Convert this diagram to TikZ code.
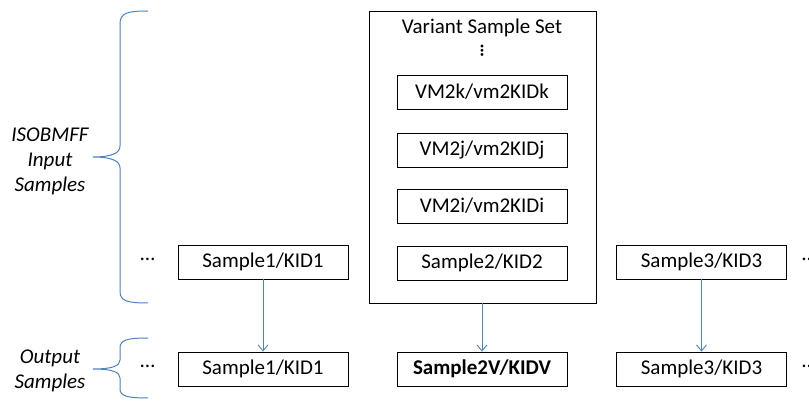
\documentclass[tikz,border=0pt]{standalone}
\usepackage{fontspec}
\setmainfont{Carlito}
\usetikzlibrary{arrows.meta}
\definecolor{braceblue}{HTML}{4F81BD}
\tikzset{
  sbox/.style={draw=black, line width=0.8pt, minimum width=170pt, minimum height=34pt,
    inner sep=0pt, font=\fontsize{21}{25}\selectfont},
  flow/.style={draw=braceblue, line width=0.9pt, -{Straight Barb[length=6pt,width=10pt]}},
  curly/.style={draw=braceblue, line width=1pt},
  lbl/.style={font=\fontsize{21}{25}\selectfont\itshape, align=center, inner sep=0pt},
  ell/.style={font=\fontsize{21}{25}\selectfont, inner sep=0pt},
}
\begin{document}
\begin{tikzpicture}[x=1pt,y=-1pt]
\useasboundingbox (0,0) rectangle (809,403);

% braces on the left
\draw[curly] (148,11) .. controls (127,11) and (120,13) .. (120,24) -- (120,146)
  .. controls (120,153) and (112,157) .. (93,157)
  .. controls (112,157) and (120,161) .. (120,168) -- (120,291)
  .. controls (120,301) and (127,303) .. (148,303);
\draw[curly] (148,338) .. controls (127,338) and (120,340) .. (120,348) -- (120,360)
  .. controls (120,366) and (112,369) .. (93,369)
  .. controls (112,369) and (120,372) .. (120,378) -- (120,389)
  .. controls (120,396) and (127,398) .. (148,398);
\node[lbl] (inlbl) at (50,161) {ISOBMFF\\Input\\Samples};
\node[lbl] (outlbl) at (50,371) {Output\\Samples};

% variant sample set container
\node[draw=black, line width=0.8pt, minimum width=227pt, minimum height=292pt, inner sep=0pt]
  (vset) at (482.5,157) {};
\node[ell] (vtitle) at (482,28) {Variant Sample Set};
\node[ell] (vdots) at (482,51) {\rotatebox{90}{\fontsize{19}{19}\selectfont\bfseries\dots}};
\node[sbox] (vmk) at (482,92) {VM2k/vm2KIDk};
\node[sbox] (vmj) at (482,150) {VM2j/vm2KIDj};
\node[sbox] (vmi) at (482,206) {VM2i/vm2KIDi};
\node[sbox] (s2) at (482,263) {Sample2/KID2};

% input samples
\node[sbox] (s1) at (263,262) {Sample1/KID1};
\node[sbox] (s3) at (701.5,262) {Sample3/KID3};

% output samples
\node[sbox] (o1) at (263,369) {Sample1/KID1};
\node[sbox, font=\fontsize{21}{25}\selectfont\bfseries] (o2) at (482,369) {Sample2V/KIDV};
\node[sbox] (o3) at (701.5,369) {Sample3/KID3};

% continuation marks
\node[ell] (ldin) at (147.5,259) {\dots};
\node[ell] (ldout) at (147.5,366) {\dots};
\node[ell, anchor=west] (rdin) at (802,259) {\dots};
\node[ell, anchor=west] (rdout) at (802,366) {\dots};

% sample flow
\draw[flow] (s1.south) -- (o1.north);
\draw[flow] (vset.south -| o2.north) -- (o2.north);
\draw[flow] (s3.south) -- (o3.north);
\end{tikzpicture}
\end{document}
